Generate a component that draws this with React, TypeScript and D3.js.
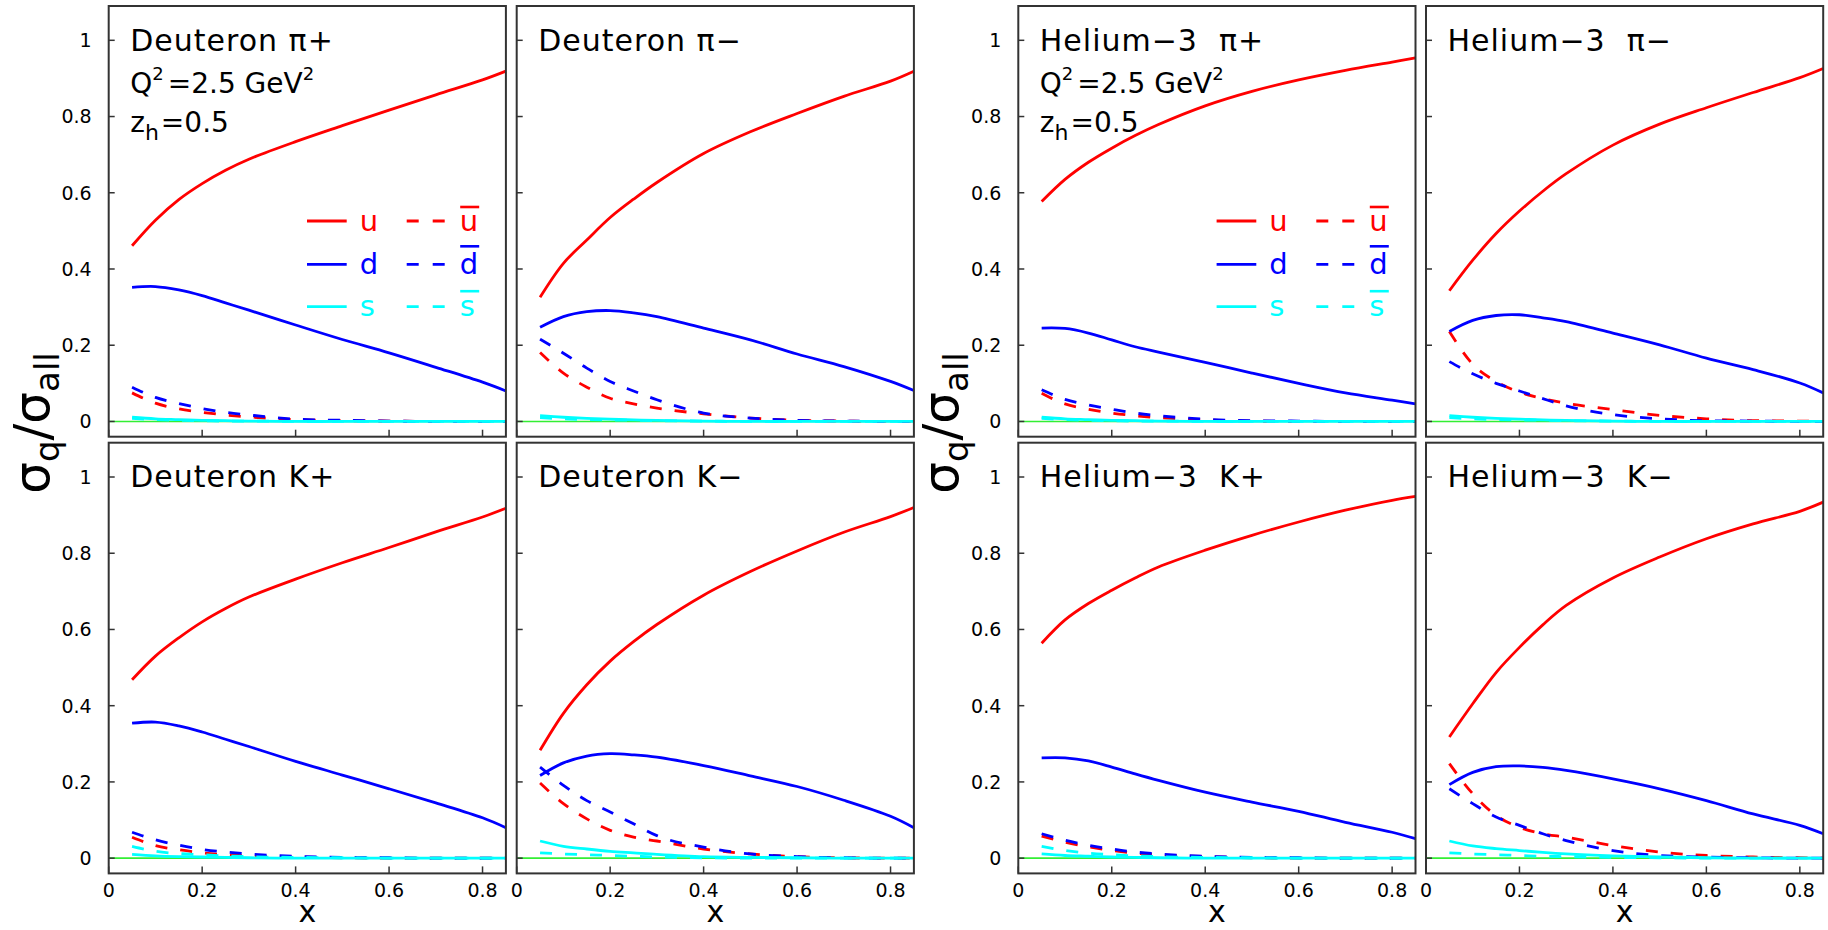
import React from "react";
import * as d3 from "d3";

// x grid shared by every curve
const xGrid = [0.05, 0.1, 0.15, 0.2, 0.25, 0.3, 0.4, 0.5, 0.6, 0.7, 0.8, 0.85];
const xTicks = [0, 0.2, 0.4, 0.6, 0.8];
const yTicks = [0, 0.2, 0.4, 0.6, 0.8, 1];

const deuteronPiPlus = {
  title: "Deuteron π+",
  u: [0.461, 0.528, 0.582, 0.624, 0.659, 0.688, 0.734, 0.776, 0.817, 0.857, 0.896, 0.919],
  d: [0.352, 0.354, 0.345, 0.33, 0.311, 0.292, 0.253, 0.215, 0.18, 0.142, 0.103, 0.08],
  s: [0.011, 0.007, 0.005, 0.003, 0.002, 0.001, 0, 0, 0, 0, 0, 0],
  ubar: [0.075, 0.048, 0.033, 0.024, 0.017, 0.012, 0.005, 0.002, 0.001, 0, 0, 0],
  dbar: [0.09, 0.063, 0.047, 0.034, 0.024, 0.017, 0.006, 0.003, 0.001, 0, 0, 0],
  sbar: [0.008, 0.005, 0.003, 0.002, 0.001, 0.001, 0, 0, 0, 0, 0, 0]
};

const deuteronPiMinus = {
  title: "Deuteron π−",
  u: [0.326, 0.415, 0.476, 0.535, 0.583, 0.627, 0.703, 0.76, 0.808, 0.853, 0.893, 0.919],
  d: [0.247, 0.275, 0.288, 0.291, 0.285, 0.275, 0.245, 0.214, 0.177, 0.144, 0.105, 0.081],
  s: [0.015, 0.011, 0.008, 0.006, 0.004, 0.003, 0.001, 0, 0, 0, 0, 0],
  ubar: [0.181, 0.127, 0.09, 0.061, 0.046, 0.035, 0.02, 0.009, 0.003, 0.001, 0, 0],
  dbar: [0.216, 0.179, 0.14, 0.105, 0.08, 0.057, 0.022, 0.009, 0.003, 0.001, 0, 0],
  sbar: [0.01, 0.007, 0.005, 0.004, 0.003, 0.002, 0.001, 0, 0, 0, 0, 0]
};

const heliumPiPlus = {
  title: "Helium−3  π+",
  u: [0.577, 0.635, 0.68, 0.717, 0.75, 0.779, 0.828, 0.866, 0.896, 0.921, 0.943, 0.954],
  d: [0.245, 0.244, 0.232, 0.214, 0.196, 0.182, 0.155, 0.127, 0.1, 0.075, 0.056, 0.046],
  s: [0.011, 0.007, 0.005, 0.003, 0.002, 0.001, 0, 0, 0, 0, 0, 0],
  ubar: [0.074, 0.046, 0.032, 0.022, 0.015, 0.01, 0.004, 0.001, 0, 0, 0, 0],
  dbar: [0.083, 0.058, 0.043, 0.032, 0.022, 0.015, 0.006, 0.002, 0.001, 0, 0, 0],
  sbar: [0.008, 0.005, 0.003, 0.002, 0.001, 0.001, 0, 0, 0, 0, 0, 0]
};

const heliumPiMinus = {
  title: "Helium−3  π−",
  u: [0.343, 0.423, 0.493, 0.552, 0.604, 0.65, 0.725, 0.78, 0.823, 0.863, 0.902, 0.926],
  d: [0.236, 0.265, 0.278, 0.28, 0.272, 0.262, 0.232, 0.201, 0.166, 0.136, 0.101, 0.075],
  s: [0.015, 0.011, 0.008, 0.006, 0.004, 0.003, 0.001, 0, 0, 0, 0, 0],
  ubar: [0.236, 0.15, 0.105, 0.077, 0.06, 0.048, 0.031, 0.016, 0.007, 0.002, 0.001, 0],
  dbar: [0.157, 0.125, 0.1, 0.08, 0.06, 0.041, 0.018, 0.007, 0.002, 0.001, 0, 0],
  sbar: [0.01, 0.007, 0.005, 0.004, 0.003, 0.002, 0.001, 0, 0, 0, 0, 0]
};

const deuteronKPlus = {
  title: "Deuteron K+",
  u: [0.468, 0.53, 0.578, 0.62, 0.655, 0.685, 0.732, 0.775, 0.815, 0.856, 0.895, 0.918],
  d: [0.354, 0.357, 0.347, 0.331, 0.312, 0.293, 0.254, 0.218, 0.182, 0.145, 0.106, 0.08],
  s: [0.01, 0.006, 0.004, 0.003, 0.002, 0.001, 0, 0, 0, 0, 0, 0],
  ubar: [0.055, 0.033, 0.022, 0.014, 0.009, 0.006, 0.003, 0.001, 0, 0, 0, 0],
  dbar: [0.068, 0.048, 0.034, 0.023, 0.016, 0.011, 0.005, 0.002, 0.001, 0, 0, 0],
  sbar: [0.031, 0.018, 0.012, 0.009, 0.006, 0.004, 0.002, 0.001, 0, 0, 0, 0]
};

const deuteronKMinus = {
  title: "Deuteron K−",
  u: [0.283, 0.38, 0.455, 0.517, 0.568, 0.613, 0.69, 0.752, 0.806, 0.855, 0.896, 0.92],
  d: [0.217, 0.25, 0.268, 0.274, 0.271, 0.265, 0.243, 0.216, 0.188, 0.152, 0.11, 0.08],
  s: [0.045, 0.031, 0.024, 0.018, 0.014, 0.01, 0.004, 0.002, 0.001, 0, 0, 0],
  ubar: [0.197, 0.143, 0.103, 0.073, 0.055, 0.045, 0.024, 0.011, 0.004, 0.001, 0, 0],
  dbar: [0.239, 0.191, 0.151, 0.121, 0.09, 0.059, 0.029, 0.011, 0.004, 0.001, 0, 0],
  sbar: [0.014, 0.011, 0.009, 0.007, 0.005, 0.003, 0.001, 0, 0, 0, 0, 0]
};

const heliumKPlus = {
  title: "Helium−3  K+",
  u: [0.564, 0.625, 0.668, 0.703, 0.735, 0.764, 0.808, 0.847, 0.882, 0.913, 0.939, 0.949],
  d: [0.263, 0.263, 0.255, 0.239, 0.221, 0.204, 0.173, 0.147, 0.123, 0.094, 0.068, 0.051],
  s: [0.011, 0.007, 0.005, 0.003, 0.002, 0.001, 0, 0, 0, 0, 0, 0],
  ubar: [0.058, 0.042, 0.03, 0.02, 0.013, 0.009, 0.004, 0.001, 0, 0, 0, 0],
  dbar: [0.064, 0.047, 0.034, 0.024, 0.016, 0.011, 0.005, 0.002, 0.001, 0, 0, 0],
  sbar: [0.031, 0.02, 0.013, 0.009, 0.006, 0.004, 0.002, 0.001, 0, 0, 0, 0]
};

const heliumKMinus = {
  title: "Helium−3  K−",
  u: [0.318, 0.405, 0.487, 0.553, 0.612, 0.663, 0.735, 0.79, 0.838, 0.877, 0.91, 0.934],
  d: [0.193, 0.225, 0.24, 0.242, 0.238, 0.23, 0.208, 0.182, 0.151, 0.116, 0.086, 0.064],
  s: [0.045, 0.032, 0.025, 0.02, 0.015, 0.011, 0.006, 0.003, 0.001, 0, 0, 0],
  ubar: [0.248, 0.169, 0.112, 0.081, 0.064, 0.055, 0.033, 0.016, 0.007, 0.003, 0.001, 0],
  dbar: [0.182, 0.143, 0.108, 0.086, 0.064, 0.046, 0.02, 0.007, 0.003, 0.001, 0, 0],
  sbar: [0.014, 0.011, 0.009, 0.007, 0.005, 0.004, 0.002, 0.001, 0, 0, 0, 0]
};

const panels = [
  deuteronPiPlus, deuteronPiMinus, heliumPiPlus, heliumPiMinus,
  deuteronKPlus, deuteronKMinus, heliumKPlus, heliumKMinus
];

// drawing order and styles of the six flavours
const flavours = [
  { key: "ubar", color: "#ff0000", dashed: true },
  { key: "dbar", color: "#0000ff", dashed: true },
  { key: "sbar", color: "#00ffff", dashed: true },
  { key: "u", color: "#ff0000", dashed: false },
  { key: "d", color: "#0000ff", dashed: false },
  { key: "s", color: "#00ffff", dashed: false }
];

const FONT = "'DejaVu Sans', sans-serif";
const colLefts = [108.7, 516.7, 1018.3, 1426];
const rowTops = [6, 442.7];
const panelW = 397.2;
const panelH = 430.7;
const frameColor = "#333";

const x = d3.scaleLinear().domain([0, 0.85]).range([0, panelW]);
const y = d3.scaleLinear().domain([-0.04, 1.09]).range([panelH, 0]);

const smoothLine = d3
  .line<number>()
  .x((d, i) => x(xGrid[i]))
  .y(d => y(d))
  .curve(d3.curveCatmullRom.alpha(0.5));

const dashLine = d3
  .line<number>()
  .x((d, i) => x(xGrid[i]))
  .y(d => y(d))
  .curve(d3.curveMonotoneX);

const fmt = (v: number) => (v === 0 || v === 1 ? String(v) : v.toFixed(1));

function Legend() {
  const rows = [
    { color: "#ff0000", label: "u", dy: 215, bar: 23.5 },
    { color: "#0000ff", label: "d", dy: 258.3, bar: 27.5 },
    { color: "#00ffff", label: "s", dy: 300.7, bar: 25 }
  ];
  return (
    <g>
      {rows.map(r => (
        <g key={r.label} fill={r.color} stroke={r.color}>
          <line x1={198.3} x2={238} y1={r.dy} y2={r.dy} strokeWidth={2.8} />
          <text x={251} y={r.dy + 9.5} fontSize={29} stroke="none" fontFamily={FONT}>
            {r.label}
          </text>
          <line x1={298} x2={336.3} y1={r.dy} y2={r.dy} strokeWidth={2.8} strokeDasharray="12,14" />
          <text x={351} y={r.dy + 9.5} fontSize={29} stroke="none" fontFamily={FONT}>
            {r.label}
          </text>
          <line x1={351.5} x2={370.5} y1={r.dy + 9.5 - r.bar} y2={r.dy + 9.5 - r.bar} strokeWidth={2.6} />
        </g>
      ))}
    </g>
  );
}

function Panel({ data, col, row }: { data: any; col: number; row: number }) {
  const left = colLefts[col];
  const top = rowTops[row];
  const firstOfPair = col === 0 || col === 2;
  return (
    <g transform={`translate(${left},${top})`}>
      <line x1={0} x2={panelW} y1={y(0)} y2={y(0)} stroke="#33ee33" strokeWidth={1.6} />
      {flavours.map(f => (
        <path
          key={f.key}
          d={(f.dashed ? dashLine : smoothLine)(data[f.key]) || ""}
          fill="none"
          stroke={f.color}
          strokeWidth={2.8}
          strokeDasharray={f.dashed ? "12,13" : undefined}
        />
      ))}
      <rect x={0} y={0} width={panelW} height={panelH} fill="none" stroke={frameColor} strokeWidth={2} />
      {yTicks.map(t => (
        <g key={t}>
          <line x1={0} x2={6} y1={y(t)} y2={y(t)} stroke={frameColor} strokeWidth={1.5} />
          {firstOfPair && (
            <text x={-17} y={y(t)} dy="0.36em" textAnchor="end" fontSize={19} fontFamily={FONT}>
              {fmt(t)}
            </text>
          )}
        </g>
      ))}
      {xTicks.map(t => (
        <g key={t}>
          <line x1={x(t)} x2={x(t)} y1={panelH} y2={panelH - 7} stroke={frameColor} strokeWidth={1.5} />
          {row === 1 && (
            <text x={x(t)} y={panelH + 24} textAnchor="middle" fontSize={19} fontFamily={FONT}>
              {fmt(t)}
            </text>
          )}
        </g>
      ))}
      {row === 1 && (
        <text x={panelW / 2} y={panelH + 48.5} textAnchor="middle" fontSize={30} fontFamily={FONT}>
          x
        </text>
      )}
      <text x={21.5} y={44.5} fontSize={30} letterSpacing={1} fontFamily={FONT} style={{ whiteSpace: "pre" }}>
        {data.title}
      </text>
      {row === 0 && firstOfPair && (
        <g fontFamily={FONT}>
          <text x={21.5} y={86.7} fontSize={28}>
            Q
            <tspan fontSize={18} dy={-13}>2</tspan>
            <tspan fontSize={28} dy={13} dx={4}>=2.5 GeV</tspan>
            <tspan fontSize={18} dy={-13}>2</tspan>
          </text>
          <text x={21.5} y={125.7} fontSize={28}>
            z
            <tspan fontSize={22} dy={8}>h</tspan>
            <tspan fontSize={28} dy={-8} dx={2}>=0.5</tspan>
          </text>
          <Legend />
        </g>
      )}
    </g>
  );
}

function YTitle({ cx }: { cx: number }) {
  return (
    <text
      transform={`translate(${cx},423) rotate(-90)`}
      textAnchor="middle"
      fontSize={50}
      fontFamily={FONT}
    >
      σ<tspan fontSize={34} dy={10}>q</tspan>
      <tspan fontSize={50} dy={-10}>/σ</tspan>
      <tspan fontSize={34} dy={10}>all</tspan>
    </text>
  );
}

export default function App() {
  return (
    <svg
      width={1828}
      height={930}
      style={{ position: "absolute", left: 0, top: 0, background: "#fff" }}
    >
      <YTitle cx={colLefts[0] - 60} />
      <YTitle cx={colLefts[2] - 60} />
      {panels.map((p, i) => (
        <Panel key={p.title} data={p} col={i % 4} row={Math.floor(i / 4)} />
      ))}
    </svg>
  );
}
